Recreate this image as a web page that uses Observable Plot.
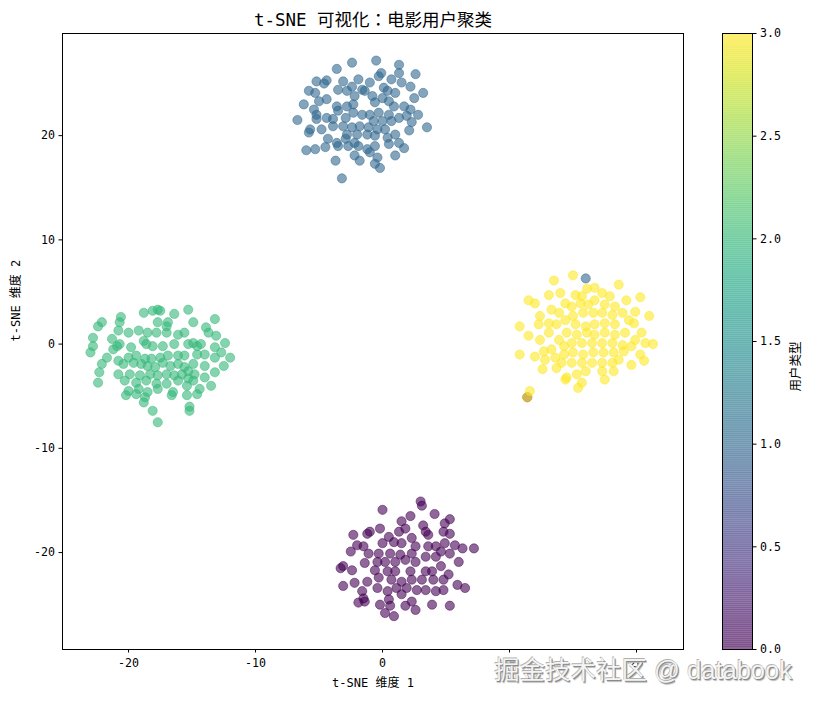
<!DOCTYPE html>
<html>
<head>
<meta charset="utf-8">
<script src="https://cdn.jsdelivr.net/npm/d3@7"></script>
<script src="https://cdn.jsdelivr.net/npm/@observablehq/plot@0.6"></script>
<style>
  html, body { margin: 0; padding: 0; background: white; }
  #wrap { position: relative; width: 813px; height: 701px; overflow: hidden; }
  #wrap svg { position: absolute; left: 0; top: 0; }
  #wm { position: absolute; left: 494px; top: 649px; font-family: "Liberation Sans", "Noto Sans CJK SC", sans-serif;
        font-size: 25.5px; color: #f4f4f4; white-space: nowrap;
        text-shadow: 1px 1px 0 #8a8a8a, -0.6px -0.6px 0 #b0b0b0, 1.5px 1.5px 1px #bbb; }
</style>
</head>
<body>
<div id="wrap"></div>
<script>
// ---- data ----
const title = "t-SNE 可视化：电影用户聚类";
const xLabel = "t-SNE 维度 1";
const yLabel = "t-SNE 维度 2";
const cbLabel = "用户类型";
const watermark = "掘金技术社区 @ databook";
const xTicks = [-20, -10, 0, 10, 20];
const yTicks = [-20, -10, 0, 10, 20];
const cbTicks = [0, 0.5, 1, 1.5, 2, 2.5, 3];

// user type 0 (purple)
const cluster0 = [[3.0,-15.1],[3.1,-15.5],[0.0,-15.9],[4.1,-16.3],[2.2,-16.5],[5.3,-16.8],[1.5,-17.0],[4.9,-17.2],[-0.2,-17.7],[-1.0,-18.0],[-2.3,-18.3],[-1.2,-18.2],[1.3,-18.0],[1.8,-17.7],[3.2,-17.4],[3.4,-18.0],[3.6,-18.3],[4.8,-18.0],[5.3,-18.2],[0.5,-18.5],[2.3,-18.6],[0.9,-19.0],[1.5,-19.1],[0.0,-19.1],[-2.0,-19.3],[-1.5,-19.4],[-2.5,-19.9],[-1.1,-20.1],[-0.3,-20.1],[0.6,-20.1],[1.4,-20.2],[2.3,-20.1],[2.6,-19.4],[3.6,-19.4],[4.2,-19.4],[4.6,-19.9],[4.9,-19.1],[5.7,-19.3],[6.3,-19.6],[7.2,-19.6],[6.0,-20.9],[5.3,-20.1],[4.2,-20.4],[3.4,-20.4],[2.6,-20.9],[1.8,-20.7],[1.0,-20.9],[0.2,-20.9],[-0.4,-20.9],[-1.4,-21.0],[-3.1,-21.3],[-3.3,-21.5],[-2.4,-21.7],[-0.6,-21.7],[0.4,-21.8],[1.0,-21.8],[2.2,-21.8],[3.4,-21.8],[3.9,-21.8],[4.6,-21.3],[5.2,-22.1],[-0.3,-22.4],[0.7,-22.6],[1.5,-22.8],[2.3,-22.6],[3.1,-22.6],[4.0,-22.6],[4.8,-22.6],[5.9,-23.1],[6.5,-23.4],[-3.1,-23.2],[-2.2,-22.9],[-1.2,-22.8],[1.1,-23.4],[1.9,-23.4],[2.7,-23.6],[3.4,-23.6],[4.2,-23.7],[4.8,-23.6],[-1.6,-23.7],[-0.4,-23.4],[0.4,-23.7],[-1.5,-24.4],[-1.4,-24.7],[-1.9,-24.8],[-0.2,-25.0],[0.5,-24.5],[1.5,-24.0],[2.3,-24.7],[2.6,-25.5],[1.8,-25.1],[0.6,-25.1],[0.2,-25.8],[0.9,-26.1],[3.9,-25.0],[5.3,-25.1],
  [11.4,-5.1]];

// user type 1 (blue)
const cluster1 = [[-2.4,27.0],[-0.5,27.2],[1.3,26.8],[-3.6,26.4],[-0.1,26.0],[-0.3,25.7],[1.3,26.0],[2.6,25.9],[-5.2,25.2],[-4.4,25.3],[-3.1,25.2],[-1.9,25.4],[-4.6,25.0],[-1.0,25.1],[0.7,25.4],[1.5,25.1],[0.1,24.6],[0.4,24.3],[2.2,24.7],[-5.8,24.3],[-5.3,24.1],[-3.5,24.4],[-2.8,24.3],[-2.4,24.7],[-1.6,24.4],[-1.4,24.3],[3.2,24.1],[2.5,23.6],[1.0,24.1],[0.0,23.6],[-0.8,23.8],[-2.2,23.8],[-4.4,23.5],[-5.0,23.3],[-6.2,23.0],[-5.4,22.5],[-3.6,22.8],[-3.5,22.4],[-2.8,22.8],[-2.3,23.0],[-0.6,23.2],[0.5,23.3],[0.9,22.8],[1.7,22.8],[2.2,22.5],[2.8,22.0],[1.9,21.9],[1.3,21.7],[0.5,22.0],[-0.3,22.2],[-1.0,22.0],[-1.6,22.0],[-2.3,22.2],[-2.9,21.7],[-3.9,21.6],[-4.4,21.7],[-5.2,21.6],[-6.7,21.5],[-5.2,22.0],[-0.7,21.4],[0.0,21.4],[0.7,21.4],[2.3,21.3],[3.5,20.8],[2.1,20.5],[1.0,20.1],[0.2,20.6],[-0.4,20.6],[-1.1,20.8],[-1.8,20.9],[-2.4,20.8],[-3.1,20.9],[-3.9,20.9],[-4.8,20.6],[-5.7,20.6],[-5.8,20.3],[-2.8,20.1],[-2.0,20.1],[-1.2,20.1],[-0.6,20.0],[0.4,19.8],[1.3,19.3],[-4.3,19.7],[-3.6,19.3],[-2.9,19.7],[-2.2,19.3],[-1.9,19.0],[-2.7,19.0],[-3.5,19.0],[-4.5,18.9],[-5.3,18.7],[-6.0,18.6],[-0.6,19.0],[0.5,19.2],[1.7,18.8],[-1.2,18.7],[-2.2,18.1],[-1.8,17.6],[-1.0,18.4],[-0.4,17.9],[-0.6,17.3],[-0.2,16.9],[1.0,18.1],[-3.7,17.6],[-3.2,15.9]];

// user type 2 (green)
const cluster2 = [[-17.7,3.3],[-18.1,3.2],[-18.8,3.0],[-17.5,3.2],[-16.4,2.9],[-15.3,3.3],[-14.9,2.1],[-13.2,2.4],[-20.6,2.6],[-22.1,2.1],[-22.4,1.7],[-20.7,2.1],[-17.7,2.1],[-16.9,2.1],[-17.0,1.7],[-20.8,1.3],[-20.0,1.1],[-19.2,1.3],[-18.5,1.1],[-17.8,1.1],[-17.0,1.1],[-16.1,0.9],[-15.6,1.1],[-13.9,1.6],[-13.7,1.1],[-13.1,0.8],[-12.4,0.1],[-22.8,0.6],[-22.8,-0.2],[-23.0,-0.8],[-21.3,0.5],[-20.9,-0.2],[-20.7,0.0],[-21.2,-0.5],[-19.8,-0.3],[-18.8,0.3],[-18.6,0.0],[-18.1,-0.2],[-17.3,-0.2],[-16.4,0.0],[-15.3,0.0],[-14.9,0.1],[-14.6,-0.2],[-14.3,0.0],[-13.2,-0.3],[-12.7,-0.8],[-12.0,-1.3],[-13.2,-1.3],[-14.0,-1.0],[-14.6,-1.0],[-15.6,-1.1],[-16.1,-1.1],[-16.9,-1.1],[-17.5,-1.3],[-18.2,-1.4],[-18.7,-1.4],[-19.4,-1.1],[-20.0,-1.3],[-20.8,-1.6],[-20.4,-1.9],[-21.7,-1.3],[-22.1,-1.9],[-22.3,-2.7],[-22.4,-3.7],[-19.6,-1.8],[-19.0,-1.9],[-18.5,-2.1],[-17.9,-2.2],[-17.3,-1.8],[-16.7,-2.1],[-16.1,-1.9],[-15.6,-2.2],[-14.9,-1.9],[-14.0,-2.1],[-12.5,-2.1],[-13.2,-2.7],[-14.0,-3.2],[-14.8,-2.9],[-15.3,-2.6],[-15.8,-2.9],[-16.4,-3.0],[-17.0,-2.9],[-17.7,-3.0],[-18.3,-2.9],[-19.1,-3.0],[-19.9,-2.9],[-20.8,-2.9],[-20.3,-3.5],[-19.4,-3.7],[-18.6,-3.5],[-17.8,-3.8],[-17.0,-3.8],[-16.1,-3.5],[-15.3,-3.3],[-14.9,-3.5],[-14.4,-4.3],[-13.5,-4.0],[-15.4,-4.0],[-17.7,-4.3],[-18.5,-4.6],[-19.2,-4.3],[-20.0,-4.5],[-20.2,-4.9],[-19.4,-4.8],[-18.7,-5.1],[-16.5,-4.6],[-16.6,-4.9],[-15.4,-4.9],[-14.6,-4.8],[-15.2,-6.0],[-15.2,-6.4],[-18.1,-6.4],[-17.7,-7.5],[-18.8,-5.6]];

// user type 3 (yellow)
const cluster3 = [[13.5,6.1],[15.0,6.6],[18.6,5.7],[16.7,5.4],[16.1,5.3],[15.2,4.7],[15.7,4.6],[13.1,4.7],[14.0,4.9],[11.5,4.2],[12.0,3.9],[17.3,4.9],[17.9,4.6],[19.2,4.2],[20.3,4.5],[14.4,3.9],[14.9,3.6],[15.6,3.9],[16.2,3.8],[16.7,4.2],[17.5,3.8],[18.3,3.6],[13.3,3.3],[13.9,3.0],[12.4,2.7],[21.0,2.7],[19.9,3.1],[18.9,3.0],[19.4,2.3],[18.1,2.8],[17.3,3.0],[16.6,3.0],[15.8,3.0],[15.0,2.7],[14.4,2.3],[10.8,1.7],[12.3,1.9],[13.1,2.0],[13.7,1.9],[15.2,1.9],[16.0,1.7],[16.7,1.9],[17.5,2.0],[18.3,1.9],[19.8,2.0],[20.4,1.1],[21.3,0.0],[11.5,0.8],[12.4,0.4],[13.1,1.1],[13.9,0.4],[14.5,1.1],[15.3,0.9],[16.1,1.1],[16.7,0.9],[17.5,1.1],[18.3,0.9],[19.1,1.1],[19.9,0.4],[20.7,0.1],[19.6,-0.2],[18.9,-0.1],[18.1,0.1],[17.3,0.1],[16.5,0.1],[15.7,0.1],[14.9,0.1],[14.3,-0.2],[13.3,-0.5],[12.7,-0.7],[10.8,-1.0],[12.0,-1.2],[12.8,-1.5],[13.6,-1.3],[14.3,-1.0],[15.0,-0.8],[15.8,-1.0],[16.6,-0.8],[17.4,-0.8],[18.2,-0.8],[19.0,-0.7],[20.3,-1.0],[20.6,-1.6],[19.6,-2.0],[18.6,-1.5],[18.1,-1.8],[17.3,-1.8],[16.5,-1.8],[15.7,-1.8],[14.9,-1.8],[14.1,-1.8],[12.6,-2.4],[13.7,-2.3],[17.3,-2.6],[18.2,-2.6],[16.0,-2.6],[15.3,-2.9],[14.5,-3.2],[14.4,-3.4],[15.7,-3.7],[17.5,-3.4],[15.4,-4.2],[11.6,-4.5],[11.4,-5.1]];

// blue point lying on top of the yellow cluster: [x, y, type]
const strays = [[16.0,6.3,1]];

// ---- build table ----
const points = [
  ...cluster0.map(([x, y]) => ({x, y, t: 0})),
  ...cluster1.map(([x, y]) => ({x, y, t: 1})),
  ...cluster2.map(([x, y]) => ({x, y, t: 2})),
  ...cluster3.map(([x, y]) => ({x, y, t: 3})),
  ...strays.map(([x, y, t]) => ({x, y, t}))
];

const FONT = "'DejaVu Sans Mono', 'Noto Sans CJK SC', monospace";
const TITLE_FONT = "'DejaVu Sans Mono', 'Noto Sans CJK JP', monospace";
const W = 813, H = 701;
const colorOpt = {type: "linear", scheme: "viridis", domain: [0, 3]};

const main = Plot.plot({
  width: W, height: H,
  marginLeft: 62, marginRight: W - 683, marginTop: 33, marginBottom: H - 649,
  style: {fontFamily: FONT, fontSize: "11.6px", color: "black", background: "white"},
  x: {domain: [-25.2, 23.7]},
  y: {domain: [-29.3, 29.8]},
  color: colorOpt,
  marks: [
    Plot.dot(points, {x: "x", y: "y", fill: "t", stroke: "t", r: 4.6, strokeWidth: 0.8,
                      fillOpacity: 0.6, strokeOpacity: 0.6}),
    Plot.frame({stroke: "black", strokeWidth: 1}),
    Plot.axisX({ticks: xTicks, tickSize: 3.5, tickPadding: 6, label: null, tickFormat: d => String(d)}),
    Plot.axisY({ticks: yTicks, tickSize: 3.5, tickPadding: 4, label: null, tickFormat: d => String(d)}),
    Plot.text([title], {text: d => d, frameAnchor: "top", dy: -13, lineAnchor: "middle", fontSize: 17.5, fontFamily: TITLE_FONT}),
    Plot.text([xLabel], {text: d => d, frameAnchor: "bottom", dy: 34, lineAnchor: "middle", fontSize: 12}),
    Plot.text([yLabel], {text: d => d, frameAnchor: "left", dx: -46, rotate: -90, lineAnchor: "middle", fontSize: 12})
  ]
});

const cbSteps = d3.range(0, 300).map(i => i / 100);
const cbar = Plot.plot({
  width: W, height: H,
  marginLeft: 722, marginRight: W - 752, marginTop: 33, marginBottom: H - 649,
  style: {fontFamily: FONT, fontSize: "11.6px", color: "black", background: "transparent"},
  x: {domain: [0, 1], axis: null},
  y: {domain: [0, 3]},
  color: colorOpt,
  marks: [
    Plot.rect(cbSteps, {x1: 0, x2: 1, y1: d => d, y2: d => Math.min(3, d + 0.012), fill: d => d + 0.005, fillOpacity: 0.6}),
    Plot.frame({stroke: "black", strokeWidth: 1}),
    Plot.axisY({anchor: "right", ticks: cbTicks, tickFormat: d3.format(".1f"), tickSize: 3.5, tickPadding: 4, label: null}),
    Plot.text([cbLabel], {text: d => d, frameAnchor: "right", dx: 43, rotate: -90, lineAnchor: "middle", fontSize: 12.5})
  ]
});

const wrap = document.getElementById("wrap");
wrap.appendChild(main);
wrap.appendChild(cbar);
const wm = document.createElement("div");
wm.id = "wm";
wm.textContent = watermark;
wrap.appendChild(wm);
</script>
</body>
</html>
